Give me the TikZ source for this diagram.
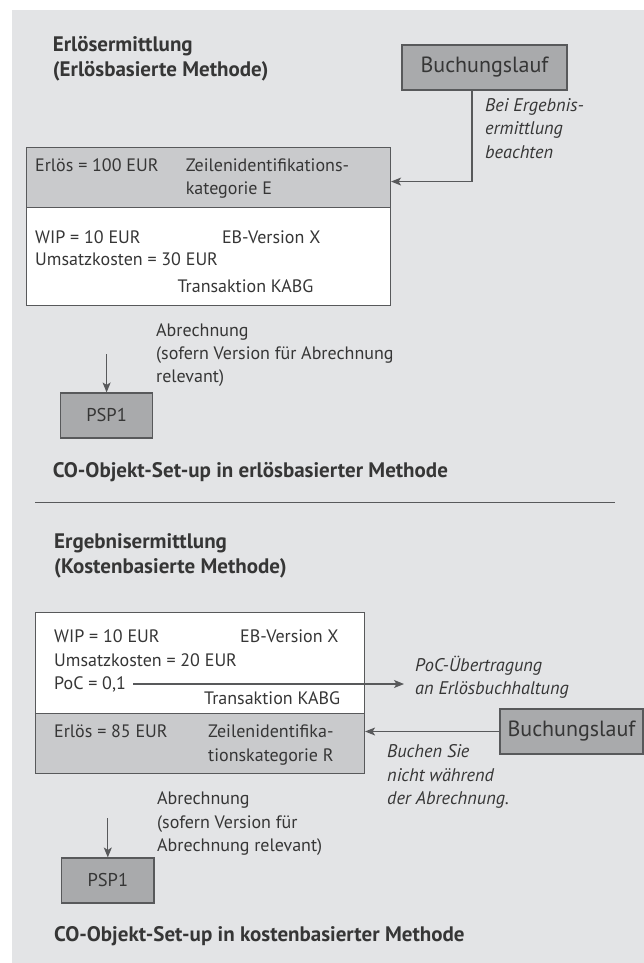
\documentclass[tikz,border=0pt]{standalone}
\usepackage{fontspec}
\setmainfont{PT Sans}
\usetikzlibrary{arrows.meta}
\definecolor{panel}{HTML}{E3E4E6}
\definecolor{darkfill}{HTML}{A9AAAC}
\definecolor{lightfill}{HTML}{C9CACC}
\definecolor{edge}{HTML}{58595B}
\definecolor{ink}{HTML}{363636}
\begin{document}
\begin{tikzpicture}[x=1pt,y=-1pt,
  txt/.style={inner sep=0pt, anchor=base west, text=ink, font=\fontsize{18}{22}\selectfont},
  note/.style={txt, font=\fontsize{18.3}{22}\selectfont\itshape},
  head/.style={txt, font=\fontsize{21}{25}\selectfont\bfseries},
  plate/.style={draw=edge, line width=1.1pt, inner sep=0pt, anchor=north west},
  darkbox/.style={draw=edge, fill=darkfill, line width=1.1pt, inner sep=0pt, text=ink,
    minimum height=45pt},
  runbox/.style={darkbox, font=\fontsize{22}{26}\selectfont},
  pspbox/.style={darkbox, minimum width=92.4pt, font=\fontsize{18.5}{22}\selectfont},
  arr/.style={draw=edge, line width=1.1pt, -{Stealth[length=10pt,width=8pt,inset=2.5pt]}}
]
\useasboundingbox (0,0) rectangle (644,963);
\fill[white] (0,0) rectangle (644,963);
\fill[panel] (12,10) rectangle (644,963);

% ---------- revenue-based method ----------
\node[head] (h1a) at (52.6,52) {Erlösermittlung};
\node[head] (h1b) at (52.6,77) {(Erlösbasierte Methode)};

\node[runbox, minimum width=165pt] (bl1) at (484.5,67.5) {Buchungslauf};
\node[note] (n1a) at (485,112) {Bei Ergebnis-};
\node[note] (n1b) at (485,135) {ermittlung};
\node[note] (n1c) at (485,158) {beachten};

\node[plate, fill=lightfill, minimum width=364.5pt, minimum height=60pt] (rev1) at (25.5,147) {};
\node[plate, fill=white, minimum width=364.5pt, minimum height=98pt] (wip1) at (25.5,207) {};

\node[txt] (e1) at (35,171) {Erlös = 100 EUR};
\node[txt] (z1a) at (185.6,171) {Zeilenidentifikations-};
\node[txt] (z1b) at (185.6,194) {kategorie E};
\node[txt] (w1) at (35,243) {WIP = 10 EUR};
\node[txt] (v1) at (221.8,243) {EB-Version X};
\node[txt] (u1) at (35,265) {Umsatzkosten = 30 EUR};
\node[txt] (k1) at (177.4,292) {Transaktion KABG};

\draw[arr] ([xshift=-12.5pt]bl1.south) |- ([yshift=-4pt]rev1.east);

\node[txt] (a1a) at (156,336) {Abrechnung};
\node[txt] (a1b) at (156,359) {(sofern Version für Abrechnung};
\node[txt] (a1c) at (156,382) {relevant)};

\node[pspbox] (psp1) at (106.6,415.5) {PSP1};
\coordinate (s1) at (106.6,354);
\draw[arr] (s1) -- (psp1.north);

\node[head] (c1) at (52.6,477) {CO-Objekt-Set-up in erlösbasierter Methode};

\draw[draw=edge, line width=1pt] (35,502) -- (615,502);

% ---------- cost-based method ----------
\node[head] (h2a) at (54,548) {Ergebnisermittlung};
\node[head] (h2b) at (54,573) {(Kostenbasierte Methode)};

\node[plate, fill=white, minimum width=329pt, minimum height=101pt] (wip2) at (35,612) {};
\node[plate, fill=lightfill, minimum width=329pt, minimum height=60pt] (rev2) at (35,713) {};

\node[txt] (w2) at (54,642) {WIP = 10 EUR};
\node[txt] (v2) at (240,642) {EB-Version X};
\node[txt] (u2) at (54,666) {Umsatzkosten = 20 EUR};
\node[txt] (poc) at (54,689) {PoC = 0,1};
\node[txt] (k2) at (204,704) {Transaktion KABG};

\node[note] (p2a) at (415,671) {PoC-Übertragung};
\node[note] (p2b) at (415,694) {an Erlösbuchhaltung};
\coordinate (pocstart) at ([shift={(7pt,5pt)}]poc.base east);
\coordinate (pocend) at (404,684);
\draw[arr] (pocstart) -- (pocstart -| pocend);

\node[txt] (e2) at (54,737) {Erlös = 85 EUR};
\node[txt] (z2a) at (208,737) {Zeilenidentifika-};
\node[txt] (z2b) at (208,761) {tionskategorie R};

\node[runbox, minimum width=143pt] (bl2) at (571.5,731.5) {Buchungslauf};
\draw[arr] (bl2.west) -- (bl2.west -| rev2.east);

\node[note] (b2a) at (387,757) {Buchen Sie};
\node[note] (b2b) at (387,781) {nicht während};
\node[note] (b2c) at (387,804) {der Abrechnung.};

\node[txt] (a2a) at (157,804) {Abrechnung};
\node[txt] (a2b) at (157,828) {(sofern Version für};
\node[txt] (a2c) at (157,851) {Abrechnung relevant)};

\node[pspbox] (psp2) at (107.8,880.5) {PSP1};
\coordinate (s2) at (107.8,818);
\draw[arr] (s2) -- (psp2.north);

\node[head] (c2) at (54,941) {CO-Objekt-Set-up in kostenbasierter Methode};
\end{tikzpicture}
\end{document}
